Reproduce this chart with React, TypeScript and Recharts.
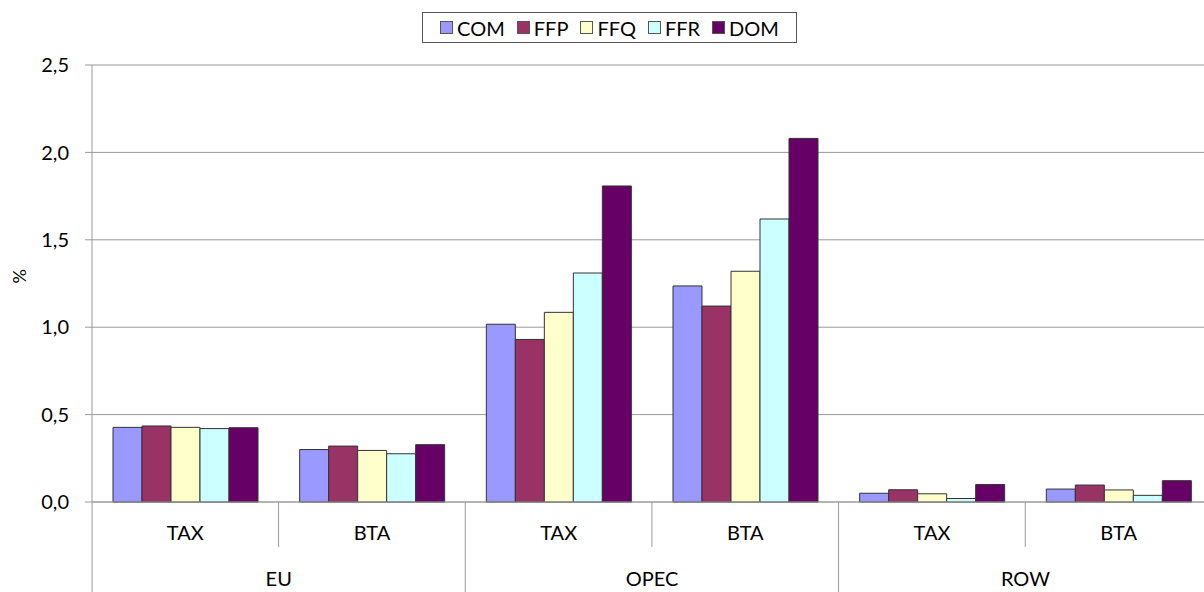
import { BarChart, Bar, XAxis, YAxis, CartesianGrid, Label } from "recharts"

const regions = ["EU", "OPEC", "ROW"]
const policies = ["TAX", "BTA"]

const COM = [0.427, 0.3, 1.017, 1.236, 0.05, 0.074]
const FFP = [0.435, 0.32, 0.93, 1.121, 0.07, 0.097]
const FFQ = [0.427, 0.295, 1.085, 1.32, 0.047, 0.069]
const FFR = [0.42, 0.276, 1.31, 1.619, 0.02, 0.038]
const DOM = [0.425, 0.328, 1.808, 2.08, 0.1, 0.122]

const yTicks = [0, 0.5, 1, 1.5, 2, 2.5]

const SERIES = [
  { key: "COM", values: COM, color: "#9999FF" },
  { key: "FFP", values: FFP, color: "#993366" },
  { key: "FFQ", values: FFQ, color: "#FFFFCC" },
  { key: "FFR", values: FFR, color: "#CCFFFF" },
  { key: "DOM", values: DOM, color: "#660066" },
]

const data = regions.flatMap((region, r) =>
  policies.map((policy, p) => {
    const i = r * policies.length + p
    const row: Record<string, any> = { id: i, policy, region }
    SERIES.forEach((s) => (row[s.key] = s.values[i]))
    return row
  })
)

const FONT = "Lato, 'Open Sans', sans-serif"
const AXIS_COLOR = "#9a9a9a"
const CHART_W = 1212
const LEFT = 92
const BAND = (CHART_W - LEFT - 1) / data.length

function XTick(props: any) {
  const { x, y, index } = props
  const row = data[index]
  const left = x - BAND / 2
  const right = x + BAND / 2
  const odd = index % 2 === 1
  return (
    <g>
      <text x={x} y={y + 38} textAnchor="middle" fontSize={20} fill="#000" fontFamily={FONT}>
        {row.policy}
      </text>
      {index === 0 && <line x1={left} x2={left} y1={y} y2={y + 100} stroke={AXIS_COLOR} />}
      <line x1={right} x2={right} y1={y} y2={y + (odd ? 100 : 45)} stroke={AXIS_COLOR} />
      {odd && (
        <text x={left} y={y + 84} textAnchor="middle" fontSize={20} fill="#000" fontFamily={FONT}>
          {row.region}
        </text>
      )}
    </g>
  )
}

function LegendBox() {
  return (
    <div
      style={{
        position: "absolute",
        left: 422,
        top: 12,
        width: 375,
        height: 31,
        boxSizing: "border-box",
        display: "flex",
        alignItems: "center",
        justifyContent: "center",
        gap: 12,
        border: "1px solid #555",
        fontFamily: FONT,
        fontSize: 20,
        color: "#000",
        background: "#fff",
      }}
    >
      {SERIES.map((s) => (
        <span key={s.key} style={{ display: "flex", alignItems: "center" }}>
          <span
            style={{
              display: "inline-block",
              width: 11,
              height: 11,
              background: s.color,
              border: "1px solid #555",
              marginRight: 4,
            }}
          />
          {s.key}
        </span>
      ))}
    </div>
  )
}

export default function App() {
  return (
    <div style={{ position: "fixed", left: 0, top: 0, width: 1204, height: 592, overflow: "hidden", background: "#fff" }}>
      <BarChart
        width={CHART_W}
        height={600}
        data={data}
        margin={{ top: 65, right: 0, bottom: 0, left: 0 }}
        barCategoryGap={21}
        barGap={0}
      >
        <CartesianGrid vertical={false} stroke={AXIS_COLOR} />
        <XAxis
          dataKey="id"
          height={98}
          interval={0}
          tickLine={false}
          tickSize={0}
          tickMargin={0}
          axisLine={{ stroke: AXIS_COLOR }}
          tick={<XTick />}
        />
        <YAxis
          width={LEFT}
          domain={[0, 2.5]}
          ticks={yTicks}
          tickFormatter={(v: number) => v.toFixed(1).replace(".", ",")}
          tick={{ fontSize: 20, fill: "#000", fontFamily: FONT }}
          tickLine={{ stroke: AXIS_COLOR }}
          tickSize={7}
          tickMargin={16}
          axisLine={{ stroke: AXIS_COLOR }}
        >
          <Label value="%" angle={-90} position="insideLeft" offset={20} style={{ fontSize: 18, fill: "#000", fontFamily: FONT }} />
        </YAxis>
        {SERIES.map((s) => (
          <Bar key={s.key} dataKey={s.key} fill={s.color} stroke="#333" strokeWidth={1} isAnimationActive={false} />
        ))}
      </BarChart>
      <LegendBox />
    </div>
  )
}
